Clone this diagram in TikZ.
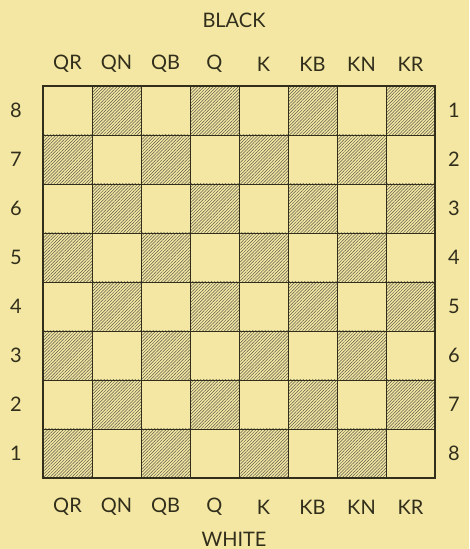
\documentclass[tikz,border=0pt]{standalone}
\usepackage{fontspec}
\setmainfont{Lato}
\usetikzlibrary{patterns.meta}
\definecolor{PaperYellow}{RGB}{243,231,163}
\definecolor{InkDark}{RGB}{50,46,28}
\tikzset{
  cell/.style={draw=InkDark,line width=0.9pt},
  hatched/.style={cell,pattern={Lines[angle=45,distance=2.2pt,line width=0.5pt]},pattern color=InkDark!80},
  frame/.style={draw=InkDark,line width=1.7pt},
  lab/.style={font=\fontsize{20}{23}\selectfont,text=InkDark,inner sep=0pt},
  side/.style={font=\fontsize{20}{23}\selectfont,text=InkDark,inner sep=0pt},
}

\begin{document}
\begin{tikzpicture}[x=1pt,y=1pt]
\fill[PaperYellow] (0,0) rectangle (469,549);
\useasboundingbox (0,0) rectangle (469,549);
% board, lower left corner at (43,71), squares of 49
\coordinate (ll) at (43,71);
\coordinate (ur) at (435,463);
\foreach \c in {0,...,7}{
  \foreach \r in {0,...,7}{
    \pgfmathtruncatemacro{\odd}{mod(\c+\r,2)}
    \ifnum\odd=0
      \draw[hatched] (43+49*\c,71+49*\r) rectangle ++(49,49);
    \else
      \draw[cell] (43+49*\c,71+49*\r) rectangle ++(49,49);
    \fi
  }
}
\draw[frame] (ll) rectangle (ur);
% file names
\foreach \f [count=\i from 0] in {QR,QN,QB,Q,K,KB,KN,KR}{
  \node[lab] (blk-\f) at (67.5+49*\i,485) {\f};
  \node[lab] (wht-\f) at (67.5+49*\i,42) {\f};
}
% rank numbers
\foreach \r in {0,...,7}{
  \pgfmathtruncatemacro{\wr}{\r+1}
  \pgfmathtruncatemacro{\br}{8-\r}
  \node[lab] (wrank-\wr) at (16,95.5+49*\r) {\wr};
  \node[lab] (brank-\br) at (454,95.5+49*\r) {\br};
}
\node[side] (black) at (234,529) {BLACK};
\node[side] (white) at (234,10) {WHITE};
\end{tikzpicture}
\end{document}
